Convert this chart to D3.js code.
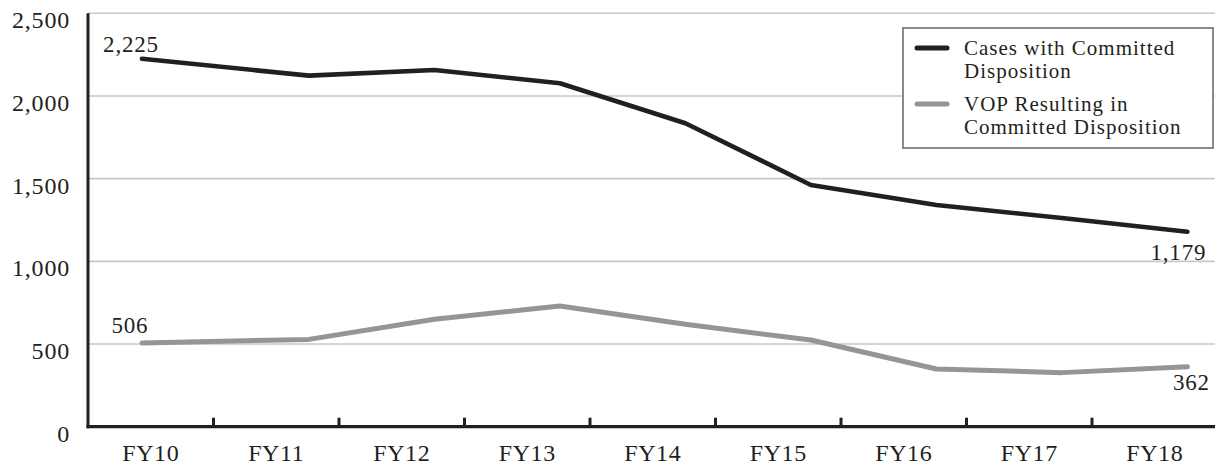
<!DOCTYPE html>
<html>
<head>
<meta charset="utf-8">
<script src="https://cdn.jsdelivr.net/npm/d3@7"></script>
<style>
  html, body { margin: 0; padding: 0; background: #fff; }
  svg { display: block; font-family: "Liberation Serif", "DejaVu Serif", serif; }
</style>
</head>
<body>
<svg id="chart" width="1215" height="468"></svg>
<script>
const categories = ["FY10", "FY11", "FY12", "FY13", "FY14", "FY15", "FY16", "FY17", "FY18"];
const committedCases = [2225, 2123, 2157, 2077, 1835, 1462, 1341, 1262, 1179];
const vopCommitted = [506, 528, 650, 730, 619, 524, 349, 327, 362];
const yTicks = [0, 500, 1000, 1500, 2000, 2500];
const seriesNames = ["Cases with Committed|Disposition", "VOP Resulting in|Committed Disposition"];

(function () {
const svg = d3.select("#chart");
const pL = 88, pR = 1217.5, pT = 13.3, pB = 426.7;

const x = d3.scaleBand().domain(categories).range([pL, pR]).paddingInner(0).paddingOuter(0);
const y = d3.scaleLinear().domain([0, 2500]).range([pB, pT]);
const bw = x.bandwidth();
const xp = (c, i) => x(c) + bw * (i === 0 ? 0.43 : 0.76);

// gridlines
svg.append("g").selectAll("line").data(yTicks.filter(d => d > 0)).join("line")
  .attr("x1", pL).attr("x2", 1215)
  .attr("y1", d => y(d)).attr("y2", d => y(d))
  .attr("stroke", "#c8c8c8").attr("stroke-width", 1.6);

// y tick labels
svg.append("g").selectAll("text").data(yTicks).join("text")
  .attr("x", 70).attr("y", d => y(d) + 15)
  .attr("text-anchor", "end")
  .attr("font-size", 24).attr("letter-spacing", 0.8)
  .attr("fill", "#231f20")
  .text(d => d3.format(",")(d));

// x axis tick marks (band boundaries)
svg.append("g").selectAll("line").data(categories.slice(1)).join("line")
  .attr("x1", d => x(d)).attr("x2", d => x(d))
  .attr("y1", pB).attr("y2", pB - 9)
  .attr("stroke", "#231f20").attr("stroke-width", 3);

// x labels
svg.append("g").selectAll("text").data(categories).join("text")
  .attr("x", d => x(d) + bw / 2).attr("y", 461)
  .attr("text-anchor", "middle")
  .attr("font-size", 24).attr("letter-spacing", 0.6)
  .attr("fill", "#231f20")
  .text(d => d);

// lines
const line = d3.line().x(d => xp(d.c, d.i)).y(d => y(d.v));
const mk = arr => arr.map((v, i) => ({ c: categories[i], i, v }));
svg.append("path").datum(mk(vopCommitted)).attr("d", line)
  .attr("fill", "none").attr("stroke", "#939598").attr("stroke-width", 5)
  .attr("stroke-linejoin", "round").attr("stroke-linecap", "round");
svg.append("path").datum(mk(committedCases)).attr("d", line)
  .attr("fill", "none").attr("stroke", "#231f20").attr("stroke-width", 4.6)
  .attr("stroke-linejoin", "round").attr("stroke-linecap", "round");

// axes lines
svg.append("line").attr("x1", pL).attr("x2", pL).attr("y1", pT).attr("y2", pB + 1.5)
  .attr("stroke", "#231f20").attr("stroke-width", 3);
svg.append("line").attr("x1", pL - 1.5).attr("x2", 1215).attr("y1", pB).attr("y2", pB)
  .attr("stroke", "#231f20").attr("stroke-width", 3.2);

// data labels
const lastI = categories.length - 1;
const fmt = d3.format(",");
const labels = [
  { c: categories[0], i: 0, v: committedCases[0], dx: -11, dy: -7 },
  { c: categories[0], i: 0, v: vopCommitted[0], dx: -12, dy: -10 },
  { c: categories[lastI], i: lastI, v: committedCases[lastI], dx: -9, dy: 28 },
  { c: categories[lastI], i: lastI, v: vopCommitted[lastI], dx: 4, dy: 23 }
];
svg.append("g").selectAll("text").data(labels).join("text")
  .attr("x", d => xp(d.c, d.i) + d.dx).attr("y", d => y(d.v) + d.dy)
  .attr("text-anchor", "middle")
  .attr("font-size", 23).attr("letter-spacing", 0.8)
  .attr("fill", "#231f20")
  .text(d => fmt(d.v));

// legend
const lg = svg.append("g");
lg.append("rect").attr("x", 903).attr("y", 28).attr("width", 310).attr("height", 120)
  .attr("fill", "#fff").attr("stroke", "#8a8a8c").attr("stroke-width", 2);
const lcolors = ["#231f20", "#939598"];
seriesNames.forEach((name, k) => {
  const base = 48 + k * 56;
  lg.append("line").attr("x1", 917).attr("x2", 947).attr("y1", base).attr("y2", base)
    .attr("stroke", lcolors[k]).attr("stroke-width", 5).attr("stroke-linecap", "round");
  const t = lg.append("text").attr("x", 964).attr("y", base + 7)
    .attr("font-size", 21).attr("letter-spacing", 1).attr("fill", "#231f20");
  name.split("|").forEach((s, j) => {
    t.append("tspan").attr("x", 964).attr("dy", j === 0 ? 0 : 23).text(s);
  });
});
})();
</script>
</body>
</html>
